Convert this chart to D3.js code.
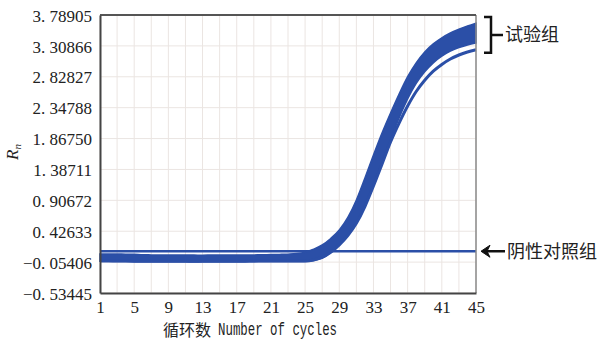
<!DOCTYPE html>
<html>
<head>
<meta charset="utf-8">
<script src="https://cdn.jsdelivr.net/npm/d3@7"></script>
<style>
  body { margin: 0; background: #fff; }
  svg { display: block; }
</style>
</head>
<body>
<svg id="chart" width="605" height="346"></svg>
<script>
// cycle numbers
var cycles = d3.range(1, 46);

// y axis ticks as printed on the original
var yTicks = [-0.53445, -0.05406, 0.42633, 0.90672, 1.38711, 1.86750, 2.34788, 2.82827, 3.30866, 3.78905];
var xTicks = [1, 5, 9, 13, 17, 21, 25, 29, 33, 37, 41, 45];

// test group: upper and lower edge of the thick bundle of curves
var testUpper = [0.072, 0.072, 0.071, 0.070, 0.068, 0.060, 0.058, 0.056, 0.055, 0.056,
                 0.057, 0.055, 0.054, 0.056, 0.057, 0.055, 0.056, 0.057, 0.058, 0.060,
                 0.063, 0.066, 0.070, 0.078, 0.100, 0.148, 0.212, 0.313, 0.445, 0.640,
                 0.912, 1.254, 1.612, 1.954, 2.265, 2.560, 2.830, 3.045, 3.215, 3.340,
                 3.435, 3.510, 3.568, 3.617, 3.662];
var testLower = [-0.040, -0.042, -0.044, -0.046, -0.047, -0.048, -0.049, -0.050, -0.050, -0.049,
                 -0.050, -0.051, -0.050, -0.049, -0.050, -0.050, -0.049, -0.048, -0.047, -0.046,
                 -0.046, -0.045, -0.045, -0.045, -0.045, -0.029, 0.010, 0.095, 0.212, 0.360,
                 0.554, 0.819, 1.145, 1.487, 1.845, 2.187, 2.483, 2.725, 2.905, 3.045,
                 3.148, 3.226, 3.283, 3.323, 3.354];
// one test curve that ends lower than the rest
var testLowCurve = [-0.035, -0.036, -0.037, -0.038, -0.039, -0.040, -0.040, -0.041, -0.041, -0.040,
                    -0.041, -0.042, -0.041, -0.040, -0.041, -0.041, -0.040, -0.039, -0.038, -0.037,
                    -0.037, -0.036, -0.036, -0.036, -0.035, -0.020, 0.018, 0.100, 0.215, 0.360,
                    0.550, 0.810, 1.130, 1.470, 1.815, 2.109, 2.374, 2.600, 2.775, 2.915,
                    3.020, 3.104, 3.167, 3.214, 3.248];
// negative control stays flat
var negControl = [0.115, 0.115, 0.115, 0.115, 0.115, 0.115, 0.115, 0.115, 0.115, 0.115,
                  0.115, 0.115, 0.115, 0.115, 0.115, 0.115, 0.115, 0.115, 0.115, 0.115,
                  0.115, 0.115, 0.115, 0.115, 0.115, 0.115, 0.115, 0.115, 0.115, 0.115,
                  0.115, 0.115, 0.115, 0.115, 0.115, 0.115, 0.115, 0.115, 0.115, 0.115,
                  0.115, 0.115, 0.115, 0.115, 0.115];

var testLabel = "试验组";
var controlLabel = "阴性对照组";
var xLabelCn = "循环数";
var xLabelEn = "Number of cycles";

var margin = {top: 15, right: 129, bottom: 53, left: 100};
var width = 605 - margin.left - margin.right;
var height = 346 - margin.top - margin.bottom;
var blue = "#2b4fa7";
var serif = "'Liberation Serif', 'DejaVu Serif', serif";
var cjk = "'Noto Sans CJK SC', sans-serif";

var svg = d3.select("#chart");
var g = svg.append("g").attr("transform", "translate(" + margin.left + "," + margin.top + ")");

var x = d3.scaleLinear().domain([1, 45]).range([0, width]);
var y = d3.scaleLinear().domain([yTicks[0], yTicks[yTicks.length - 1]]).range([height, 0]);

// grid: vertical every 2 cycles, horizontal at every tick
g.append("g").selectAll("line").data(d3.range(1, 46, 2)).enter()
    .append("line")
    .attr("x1", function(d){ return x(d); }).attr("x2", function(d){ return x(d); })
    .attr("y1", 0).attr("y2", height)
    .attr("stroke", "#ebe5e2").attr("stroke-width", 1);
g.append("g").selectAll("line").data(yTicks).enter()
    .append("line")
    .attr("x1", 0).attr("x2", width)
    .attr("y1", function(d){ return y(d); }).attr("y2", function(d){ return y(d); })
    .attr("stroke", "#ebe5e2").attr("stroke-width", 1);

// negative control
var line = d3.line()
    .x(function(d, i){ return x(cycles[i]); })
    .y(function(d){ return y(d); })
    .curve(d3.curveMonotoneX);

g.append("path").datum(negControl)
    .attr("d", line)
    .attr("fill", "none").attr("stroke", blue).attr("stroke-width", 2.6);

// test group bundle
var band = d3.area()
    .x(function(d){ return x(d); })
    .y0(function(d, i){ return y(testLower[i]); })
    .y1(function(d, i){ return y(testUpper[i]); })
    .curve(d3.curveMonotoneX);

g.append("path").datum(cycles)
    .attr("d", band)
    .attr("fill", blue).attr("stroke", blue).attr("stroke-width", 1.5);

g.append("path").datum(testLowCurve)
    .attr("d", line)
    .attr("fill", "none").attr("stroke", blue).attr("stroke-width", 3);

// frame
g.append("line").attr("x1", width).attr("x2", width).attr("y1", 0).attr("y2", height)
    .attr("stroke", "#8a8a8a").attr("stroke-width", 1.5);
g.append("line").attr("x1", 0).attr("x2", width).attr("y1", 0).attr("y2", 0)
    .attr("stroke", "#555").attr("stroke-width", 2);

// axes
function fmt(d){
    return d3.format(".5f")(d).replace(".", ". ").replace("-", "\u2212");
}

var yAxis = g.append("g")
    .call(d3.axisLeft(y).tickValues(yTicks).tickFormat(fmt).tickSize(0).tickPadding(8));
var xAxis = g.append("g")
    .attr("transform", "translate(0," + height + ")")
    .call(d3.axisBottom(x).tickValues(xTicks).tickFormat(d3.format("d")).tickSize(0).tickPadding(8));

[yAxis, xAxis].forEach(function(ax){
    ax.attr("font-family", serif).attr("font-size", 17);
    ax.select(".domain").attr("stroke", "#444").attr("stroke-width", 2);
    ax.selectAll("text").attr("fill", "#222");
});
yAxis.selectAll("text").attr("dy", "0.36em");

// axis titles
svg.append("text")
    .attr("x", 211).attr("y", 336)
    .attr("text-anchor", "end")
    .attr("fill", "#222")
    .style("font-family", cjk).style("font-size", "16px")
    .text(xLabelCn);
svg.append("text")
    .attr("x", 218).attr("y", 335)
    .attr("fill", "#222")
    .attr("textLength", 119).attr("lengthAdjust", "spacingAndGlyphs")
    .style("font-family", "'Liberation Mono', 'DejaVu Sans Mono', monospace").style("font-size", "18px")
    .text(xLabelEn);

var yTitle = svg.append("text")
    .attr("transform", "translate(18,160) rotate(-90)")
    .attr("fill", "#222")
    .style("font-family", serif).style("font-size", "17px").style("font-style", "italic");
yTitle.append("tspan").text("R");
yTitle.append("tspan").attr("dy", 3).style("font-size", "11px").text("n");

// annotation: bracket for test group
var bracketTop = margin.top + 2, bracketBot = margin.top + y(testLowCurve[44]) + 3;
var bx = margin.left + width + 15;
svg.append("path")
    .attr("d", "M" + (bx - 7) + "," + bracketTop + " H" + bx + " V" + bracketBot + " H" + (bx - 7) +
               " M" + bx + "," + ((bracketTop + bracketBot) / 2) + " H" + (bx + 12))
    .attr("fill", "none").attr("stroke", "#111").attr("stroke-width", 2.5);
svg.append("text")
    .attr("x", bx + 14).attr("y", (bracketTop + bracketBot) / 2)
    .attr("dy", "0.36em")
    .attr("fill", "#222")
    .style("font-family", cjk).style("font-size", "18px")
    .text(testLabel);

// annotation: arrow for negative control
var cy = margin.top + y(negControl[44]);
var ax0 = margin.left + width + 5, ax1 = ax0 + 24;
svg.append("line")
    .attr("x1", ax0 + 4).attr("x2", ax1).attr("y1", cy).attr("y2", cy)
    .attr("stroke", "#111").attr("stroke-width", 2.5);
svg.append("path")
    .attr("d", "M" + ax0 + "," + cy + " L" + (ax0 + 9) + "," + (cy - 6) + " L" + (ax0 + 6) + "," + cy +
               " L" + (ax0 + 9) + "," + (cy + 6) + " Z")
    .attr("fill", "#111").attr("stroke", "#111").attr("stroke-width", 1);
svg.append("text")
    .attr("x", ax1 + 2).attr("y", cy)
    .attr("dy", "0.36em")
    .attr("fill", "#222")
    .style("font-family", cjk).style("font-size", "18px")
    .text(controlLabel);
</script>
</body>
</html>
